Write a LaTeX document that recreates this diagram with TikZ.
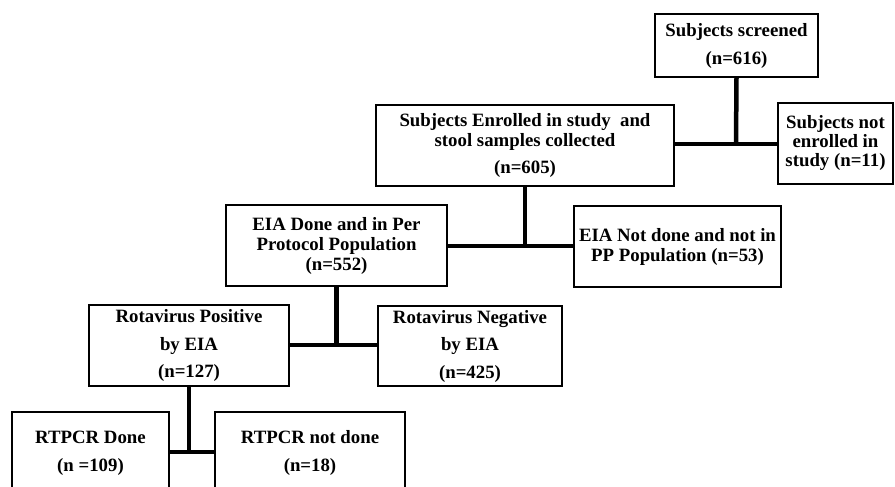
\documentclass[tikz,border=0pt]{standalone}
\usepackage{fontspec}
\setmainfont{Liberation Serif}
\begin{document}
\begin{tikzpicture}[x=1pt,y=-1pt,
  box/.style={draw, line width=1.4pt, inner sep=0pt, align=center,
    font=\bfseries\fontsize{18.8}{20}\selectfont},
  conn/.style={line width=4.5pt}]
\useasboundingbox (0,0) rectangle (895,487);
\clip (0,0) rectangle (895,487);

\node[box, minimum width=163pt, minimum height=63pt] (scr) at (736.5,45.5)
  {Subjects screened\\[8pt](n=616)};
\node[box, minimum width=298pt, minimum height=81pt] (enr) at (525,145.5)
  {Subjects Enrolled in study~ and\\stool samples collected\\[7pt](n=605)};
\node[box, minimum width=115pt, minimum height=81pt] (nenr) at (835.5,143.5)
  {Subjects not\\[-1pt]enrolled in\\[-1pt]study (n=11)};
\node[box, minimum width=221pt, minimum height=81pt] (eiad) at (336.5,245.5)
  {EIA Done and in Per\\Protocol Population\\(n=552)};
\node[box, minimum width=207pt, minimum height=81pt] (eian) at (677.5,246.5)
  {EIA Not done and not in\\PP Population (n=53)};
\node[box, minimum width=200pt, minimum height=81pt] (rpos) at (189,345.5)
  {Rotavirus Positive\\[7.5pt]by EIA\\[7.5pt](n=127)};
\node[box, minimum width=184pt, minimum height=80pt] (rneg) at (470,346)
  {Rotavirus Negative\\[7.5pt]by EIA\\[7.5pt](n=425)};
\node[box, minimum width=157pt, minimum height=82pt] (rdone) at (90.5,453)
  {RTPCR Done\\[8pt](n =109)};
\node[box, minimum width=190pt, minimum height=82pt] (rnot) at (310,453)
  {RTPCR not done\\[8pt](n=18)};

\coordinate (j1) at (736,144);
\coordinate (j2) at (525,246);
\coordinate (j3) at (336.5,345);
\coordinate (j4) at (189,452);

\draw[conn] (scr.south) -- (j1);
\draw[conn] (enr.east |- j1) -- (nenr.west |- j1);
\draw[conn] (enr.south) -- (j2);
\draw[conn] (eiad.east |- j2) -- (eian.west |- j2);
\draw[conn] (eiad.south) -- (j3);
\draw[conn] (rpos.east |- j3) -- (rneg.west |- j3);
\draw[conn] (rpos.south) -- (j4);
\draw[conn] (rdone.east |- j4) -- (rnot.west |- j4);
\end{tikzpicture}
\end{document}
